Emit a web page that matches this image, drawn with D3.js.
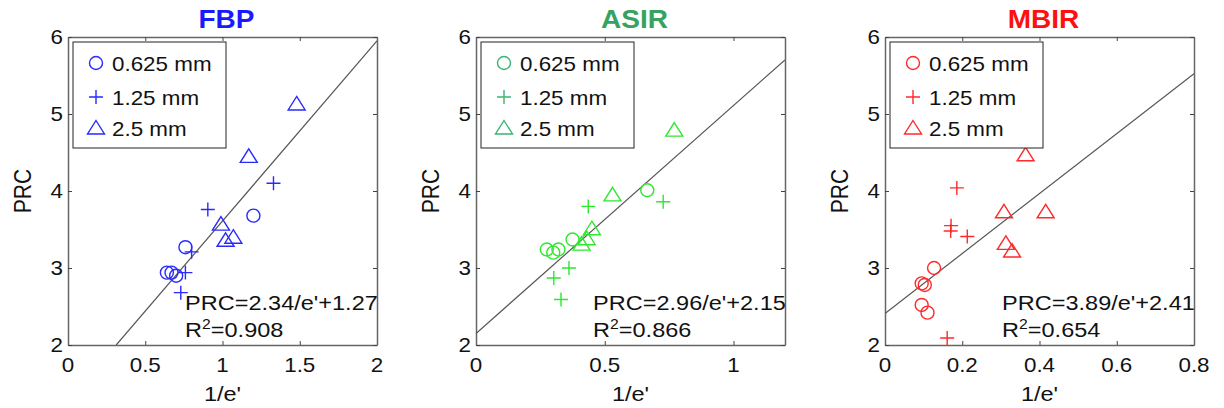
<!DOCTYPE html>
<html>
<head>
<meta charset="utf-8">
<script src="https://cdn.jsdelivr.net/npm/d3@7"></script>
<style>
  body { margin: 0; background: #fff; }
  text { font-family: Arial, "Liberation Sans", sans-serif; }
</style>
</head>
<body>
<svg id="chart" width="1224" height="408"></svg>
<script>
// panel titles and the slice thicknesses in the legend
const methods = ["FBP", "ASIR", "MBIR"];
const thicknesses = ["0.625 mm", "1.25 mm", "2.5 mm"];
const xMax = [2, 1.2, 0.8];
const xTicks = [[0, 0.5, 1, 1.5, 2], [0, 0.5, 1], [0, 0.2, 0.4, 0.6, 0.8]];
const yTicks = [2, 3, 4, 5, 6];

// [1/e', PRC]
const fbp625 = [[0.64, 2.94], [0.67, 2.94], [0.70, 2.90], [0.76, 3.27], [1.20, 3.68]];
const fbp125 = [[0.73, 2.68], [0.76, 2.94], [0.80, 3.21], [0.905, 3.76], [1.33, 4.10]];
const fbp25 = [[1.48, 5.13], [1.17, 4.45], [0.99, 3.57], [1.02, 3.36], [1.07, 3.40]];

const asir625 = [[0.275, 3.24], [0.30, 3.20], [0.32, 3.24], [0.375, 3.37], [0.665, 4.01]];
const asir125 = [[0.302, 2.87], [0.361, 3.00], [0.33, 2.59], [0.436, 3.80], [0.727, 3.86]];
const asir25 = [[0.77, 4.79], [0.53, 3.95], [0.45, 3.51], [0.43, 3.38], [0.41, 3.31]];

const mbir625 = [[0.095, 2.80], [0.103, 2.78], [0.127, 3.00], [0.095, 2.52], [0.11, 2.42]];
const mbir125 = [[0.186, 4.04], [0.171, 3.55], [0.17, 3.48], [0.213, 3.41], [0.161, 2.09]];
const mbir25 = [[0.364, 4.47], [0.308, 3.73], [0.416, 3.73], [0.313, 3.32], [0.329, 3.22]];

// fit: PRC = slope / e' + intercept
const slopes = [2.34, 2.96, 3.89];
const intercepts = [1.27, 2.15, 2.41];
const r2 = ["0.908", "0.866", "0.654"];

const seriesByPanel = [
  [fbp625, fbp125, fbp25],
  [asir625, asir125, asir25],
  [mbir625, mbir125, mbir25]
];
const titleColors = ["#1a1aff", "#35a35f", "#ff1010"];
const markColors = ["#2a2aff", "#2ee82e", "#ff2a2a"];
const legendColors = ["#2a2aff", "#3cb371", "#ff2a2a"];

const svg = d3.select("#chart");
const lefts = [68, 476, 885];
const plotW = 309, plotTop = 37, plotBottom = 345;
const sx = 1.12; // the original text is a bit wide

// Put text through a small horizontal stretch
function addText(g, x, y, str, size, anchor, extra) {
  const t = g.append("text")
    .attr("transform", `translate(${x},${y}) scale(${sx},1)${extra || ""}`)
    .attr("font-size", size)
    .attr("text-anchor", anchor)
    .attr("fill", "#111")
    .text(str);
  return t;
}

function drawMarker(g, kind, x, y, color) {
  if (kind === 0) {
    g.append("circle").attr("cx", x).attr("cy", y).attr("r", 6.5)
      .attr("fill", "none").attr("stroke", color).attr("stroke-width", 1.4);
  } else if (kind === 1) {
    g.append("path").attr("d", `M${x - 7},${y}H${x + 7}M${x},${y - 7}V${y + 7}`)
      .attr("stroke", color).attr("stroke-width", 1.4);
  } else {
    g.append("path").attr("d", `M${x},${y - 7.5}L${x + 8.5},${y + 6}L${x - 8.5},${y + 6}Z`)
      .attr("fill", "none").attr("stroke", color).attr("stroke-width", 1.4);
  }
}

methods.forEach((name, i) => {
  const left = lefts[i];
  const x = d3.scaleLinear().domain([0, xMax[i]]).range([left, left + plotW]);
  const y = d3.scaleLinear().domain([2, 6]).range([plotBottom, plotTop]);
  const g = svg.append("g");
  const cid = "clip" + i;

  svg.append("clipPath").attr("id", cid).append("rect")
    .attr("x", left).attr("y", plotTop).attr("width", plotW).attr("height", plotBottom - plotTop);

  // box axes with inward ticks on all sides
  const axes = [
    [d3.axisBottom(x).tickValues(xTicks[i]), `translate(0,${plotBottom})`],
    [d3.axisTop(x).tickValues(xTicks[i]), `translate(0,${plotTop})`],
    [d3.axisLeft(y).tickValues(yTicks), `translate(${left},0)`],
    [d3.axisRight(y).tickValues(yTicks), `translate(${left + plotW},0)`]
  ];
  axes.forEach(([ax, tr]) => {
    const a = g.append("g").attr("transform", tr)
      .call(ax.tickSizeInner(-4).tickSizeOuter(0).tickFormat(""));
    a.select(".domain").attr("stroke", "#666").attr("stroke-width", 1.5);
    a.selectAll(".tick line").attr("stroke", "#444");
  });

  xTicks[i].forEach(v => addText(g, x(v), 372, String(v), 20, "middle"));
  yTicks.forEach(v => addText(g, left - 5, y(v) + 7, String(v), 20, "end"));

  addText(g, left + plotW / 2, 401, "1/e'", 21, "middle");
  addText(g, 31 + left - 68, (plotTop + plotBottom) / 2, "PRC", 21, "middle", " rotate(-90)");

  g.append("text")
    .attr("transform", `translate(${left + plotW / 2 + 4},28) scale(${sx},1)`)
    .attr("font-size", 25).attr("font-weight", "bold")
    .attr("text-anchor", "middle").attr("fill", titleColors[i])
    .text(name);

  // fit line
  const x0 = Math.max(0, (2 - intercepts[i]) / slopes[i]);
  g.append("line")
    .attr("clip-path", `url(#${cid})`)
    .attr("x1", x(x0)).attr("y1", y(slopes[i] * x0 + intercepts[i]))
    .attr("x2", x(xMax[i])).attr("y2", y(slopes[i] * xMax[i] + intercepts[i]))
    .attr("stroke", "#555").attr("stroke-width", 1.2);

  seriesByPanel[i].forEach((pts, k) => {
    pts.forEach(p => drawMarker(g, k, x(p[0]), y(p[1]), markColors[i]));
  });

  // fit equation
  const ex = left + plotW * 0.379;
  addText(g, ex, 310, `PRC=${slopes[i].toFixed(2)}/e'+${intercepts[i].toFixed(2)}`, 21, "start");
  const r = addText(g, ex, 337, "R", 21, "start");
  r.append("tspan").attr("font-size", 14).attr("dy", -8).text("2");
  r.append("tspan").attr("dy", 8).text("=" + r2[i]);

  // legend
  const lg = g.append("g");
  lg.append("rect").attr("x", left + 5).attr("y", 42).attr("width", 153).attr("height", 106)
    .attr("fill", "#fff").attr("stroke", "#222").attr("stroke-width", 1);
  [63, 97, 128].forEach((ly, k) => {
    drawMarker(lg, k, left + 28, ly, legendColors[i]);
    addText(lg, left + 44, ly + 8, thicknesses[k], 20, "start");
  });
});
</script>
</body>
</html>
